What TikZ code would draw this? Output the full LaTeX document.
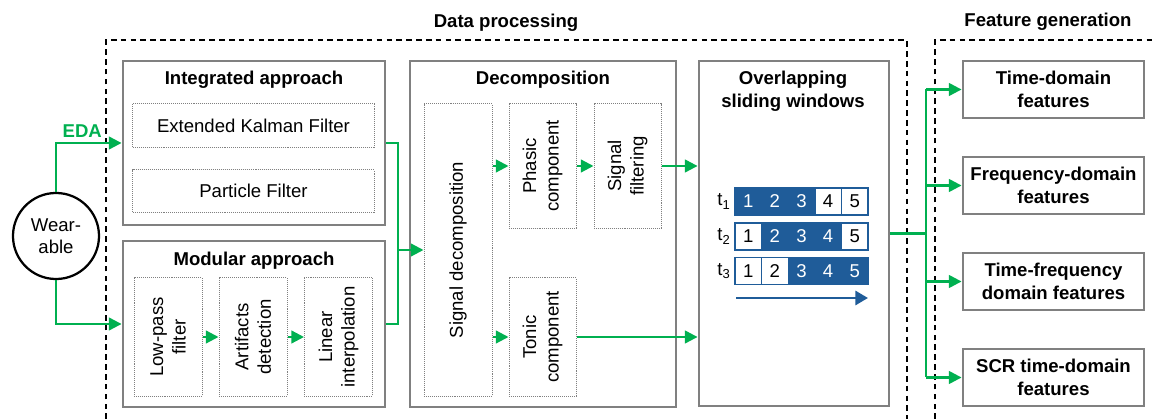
\documentclass[tikz,border=0pt]{standalone}
\usepackage{fontspec}
\setmainfont{Liberation Sans}
\usetikzlibrary{arrows.meta,positioning}
\definecolor{edagreen}{HTML}{00B050}
\definecolor{boxgray}{HTML}{808080}
\definecolor{winblue}{HTML}{1F5C99}

\begin{document}
\begin{tikzpicture}[x=0.025cm,y=-0.025cm,>={Triangle[length=9pt,width=9pt]},
                    font=\fontsize{13.2}{16}\selectfont]
  \tikzstyle{block}=[draw=boxgray,line width=2pt,inner sep=0pt]
  \tikzstyle{sub}=[draw=boxgray,dash pattern=on 0.7pt off 0.7pt,line width=0.7pt,inner sep=0pt]
  \tikzstyle{title}=[font=\bfseries\fontsize{13.2}{16}\selectfont,align=center]
  \tikzstyle{flow}=[color=edagreen,line width=1.6pt]
  \tikzstyle{cell}=[draw=winblue,line width=1pt,minimum width=0.665cm,minimum height=0.675cm,inner sep=0pt]
  \tikzstyle{feat}=[block,minimum width=4.525cm,minimum height=1.425cm,title]
  \useasboundingbox (0,0) rectangle (1153,419);

  % frames
  \draw[dash pattern=on 4pt off 3pt,line width=0.9pt] (106,419) -- (106,40) -- (907,40) -- (907,419);
  \draw[dash pattern=on 4pt off 3pt,line width=0.9pt] (935,419) -- (935,40) -- (1153,40);
  \node[title] (tdp) at (506,23) {Data processing};
  \node[title] (tfg) at (1048,22) {Feature generation};

  % sensor
  \node[circle,draw,line width=1.6pt,minimum size=2.15cm,inner sep=0pt,align=center] (wear) at (56,236) {Wear-\\able};

  % integrated approach
  \node[block,minimum width=6.55cm,minimum height=4.1cm] (integ) at (254,143) {};
  \node[title] (tinteg) at (254,80) {Integrated approach};
  \node[sub,minimum width=6.025cm,minimum height=1.075cm] (ekf) at (253.5,125.5) {Extended Kalman Filter};
  \node[sub,minimum width=6.025cm,minimum height=1.05cm] (pf) at (253.5,191) {Particle Filter};

  % modular approach
  \node[block,minimum width=6.55cm,minimum height=4.15cm] (modul) at (254,324) {};
  \node[title] (tmodul) at (254,261) {Modular approach};
  \node[sub,minimum width=1.7cm,minimum height=2.95cm] (lpf) at (168,337) {};
  \node[sub,minimum width=1.7cm,minimum height=2.95cm] (art) at (253,337) {};
  \node[sub,minimum width=1.7cm,minimum height=2.95cm] (lin) at (338.5,337) {};
  \node[rotate=90,align=center] (lpft) at (lpf) {Low-pass\\filter};
  \node[rotate=90,align=center] (artt) at (art) {Artifacts\\detection};
  \node[rotate=90,align=center] (lint) at (lin) {Linear\\interpolation};

  % decomposition
  \node[block,minimum width=6.65cm,minimum height=8.65cm] (decomp) at (543,234) {};
  \node[title] (tdecomp) at (543,80) {Decomposition};
  \node[sub,minimum width=1.7cm,minimum height=7.3cm] (sigd) at (458,250) {};
  \node[sub,minimum width=1.675cm,minimum height=3.1cm] (phas) at (542.5,166) {};
  \node[sub,minimum width=1.675cm,minimum height=3.1cm] (filt) at (627.5,166) {};
  \node[sub,minimum width=1.675cm,minimum height=2.95cm] (tonic) at (542.5,337) {};
  \node[rotate=90] (sigdt) at (sigd) {Signal decomposition};
  \node[rotate=90,align=center] (phast) at (phas) {Phasic\\component};
  \node[rotate=90,align=center] (filtt) at (filt) {Signal\\filtering};
  \node[rotate=90,align=center] (tonict) at (tonic) {Tonic\\component};

  % sliding windows
  \node[block,minimum width=4.75cm,minimum height=8.625cm] (overl) at (794,233.5) {};
  \node[title] (toverl) at (793,91) {Overlapping\\sliding windows};
  \foreach \r/\y in {1/201.5,2/236.5,3/271} {
    \node (t\r) at (724,\y) {t\textsubscript{\r}};
    \foreach \c in {1,...,5} {
      \pgfmathtruncatemacro\on{and(\c>=\r,\c<=\r+2)}
      \ifnum\on=1
        \node[cell,fill=winblue,text=white] (c\r\c) at (721.7+26.6*\c,\y) {\c};
      \else
        \node[cell,fill=white] (c\r\c) at (721.7+26.6*\c,\y) {\c};
      \fi
    }
  }
  \coordinate (wa) at (736,298);
  \coordinate (wb) at (868,298);
  \draw[winblue,line width=2pt,-{Triangle[length=9pt,width=10pt]}] (wa) -- (wb);

  % features
  \node[feat] (f1) at (1053.5,89.5) {Time-domain\\features};
  \node[feat] (f2) at (1053.5,185.5) {Frequency-domain\\features};
  \node[feat] (f3) at (1053.5,281.5) {Time-frequency\\domain features};
  \node[feat] (f4) at (1053.5,377.5) {SCR time-domain\\features};

  % green signal flow
  \coordinate (jA) at (398,250);
  \coordinate (jB) at (926,233.5);
  \draw[flow,->] (wear.north) |- node[pos=0.7,above,font=\bfseries\fontsize{13.2}{16}\selectfont] {EDA} (integ.west);
  \draw[flow,->] (wear.south) |- (modul.west);
  \draw[flow] (integ.east) -| (jA) |- (modul.east);
  \draw[flow,->] (jA) -- (sigd.west |- jA);
  \draw[flow,->]
  (lpf) edge (art)
  (art) edge (lin)
  (phas) edge (filt);
  \draw[flow,->] (sigd.east |- phas.west) -- (phas.west);
  \draw[flow,->] (sigd.east |- tonic.west) -- (tonic.west);
  \draw[flow,->] (filt.east) -- (filt.east -| overl.west);
  \draw[flow,->] (tonic.east) -- (tonic.east -| overl.west);
  \draw[flow] (overl.east |- jB) -- (jB);
  \draw[flow] (jB |- f1.west) -- (jB |- f4.west);
  \foreach \f in {f1,f2,f3,f4}
    \draw[flow,->] (jB |- \f.west) -- (\f.west);
\end{tikzpicture}
\end{document}
